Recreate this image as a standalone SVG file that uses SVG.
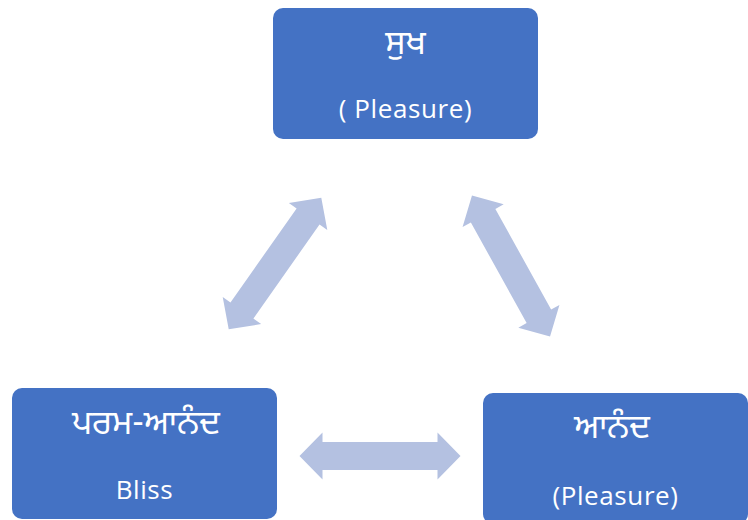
<svg xmlns="http://www.w3.org/2000/svg" width="748" height="520" viewBox="0 0 748 520">
<style>
.box{fill:#4472C4;}
.t{fill:#FFFFFF;font-family:"Open Sans","Liberation Sans",sans-serif;font-size:26px;letter-spacing:0.6px;text-anchor:middle;}
.g{fill:#FFFFFF;font-family:"Noto Sans Gurmukhi","Noto Sans","Liberation Sans",sans-serif;font-size:34px;text-anchor:middle;}
.arr{fill:#B4C1E1;}
</style>
<defs>
<path id="dbl" d="M -80.5,0 L -57.5,-23.5 L -57.5,-14 L 57.5,-14 L 57.5,-23.5 L 80.5,0 L 57.5,23.5 L 57.5,14 L -57.5,14 L -57.5,23.5 Z"/>
</defs>
<g id="connectors">
<use href="#dbl" class="arr" transform="translate(275,263.5) rotate(-54.9)"/>
<use href="#dbl" class="arr" transform="translate(511,266) rotate(61)"/>
<use href="#dbl" class="arr" transform="translate(380,456)"/>
</g>
<g id="node-sukh">
<rect class="box" x="273" y="8" width="265" height="131" rx="10"/>
<text class="g" x="405.5" y="54">ਸੁਖ</text>
<text class="t" x="405.5" y="118">( Pleasure)</text>
</g>
<g id="node-param-anand">
<rect class="box" x="12" y="388" width="265" height="131" rx="10"/>
<text class="g" x="146" y="434">ਪਰਮ-ਆਨੰਦ</text>
<text class="t" x="144.5" y="499">Bliss</text>
</g>
<g id="node-anand">
<rect class="box" x="483" y="393" width="265" height="131" rx="10"/>
<text class="g" x="612" y="438">ਆਨੰਦ</text>
<text class="t" x="615.5" y="505">(Pleasure)</text>
</g>
</svg>
